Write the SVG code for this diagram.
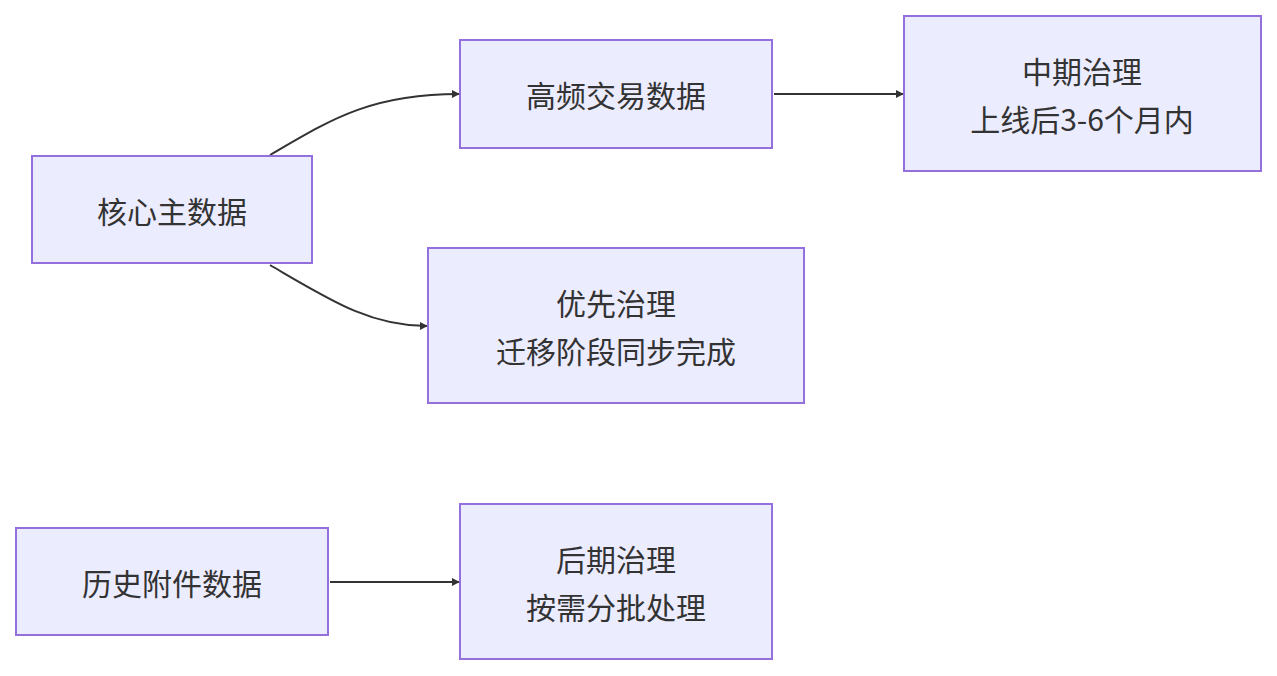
<svg xmlns="http://www.w3.org/2000/svg" width="1277" height="676" viewBox="0 0 1277 676">
<style>
.n rect{fill:#ECECFF;stroke:#9370DB;stroke-width:2}
.n text{font-family:"Noto Sans CJK SC","Noto Sans",sans-serif;font-size:30px;fill:#333;text-anchor:middle;dominant-baseline:central}
.e path{fill:none;stroke:#333;stroke-width:2;marker-end:url(#a)}
</style>
<defs><marker id="a" viewBox="0 0 10 10" refX="9" refY="5" markerWidth="8" markerHeight="8" markerUnits="userSpaceOnUse" orient="auto"><path d="M0,0L10,5L0,10z" fill="#333"/></marker></defs>
<rect width="1277" height="676" fill="#fff"/>
<g class="e">
<path d="M270,155C330,120 370,94 459,94"/>
<path d="M774,94H903"/>
<path d="M270,265C330,300 370,326 427,326"/>
<path d="M330,582H459"/>
</g>
<g id="core" class="n"><rect x="32" y="156" width="280" height="107"/><text x="172" y="210">核心主数据</text></g>
<g id="hf" class="n"><rect x="460" y="40" width="312" height="108"/><text x="616" y="94">高频交易数据</text></g>
<g id="mid" class="n"><rect x="904" y="16" width="357" height="155"/><text x="1082" y="70">中期治理</text><text x="1082" y="118">上线后3-6个月内</text></g>
<g id="pri" class="n"><rect x="428" y="248" width="376" height="155"/><text x="616" y="302">优先治理</text><text x="616" y="350">迁移阶段同步完成</text></g>
<g id="hist" class="n"><rect x="16" y="528" width="312" height="107"/><text x="172" y="582">历史附件数据</text></g>
<g id="late" class="n"><rect x="460" y="504" width="312" height="155"/><text x="616" y="558">后期治理</text><text x="616" y="606">按需分批处理</text></g>
</svg>
